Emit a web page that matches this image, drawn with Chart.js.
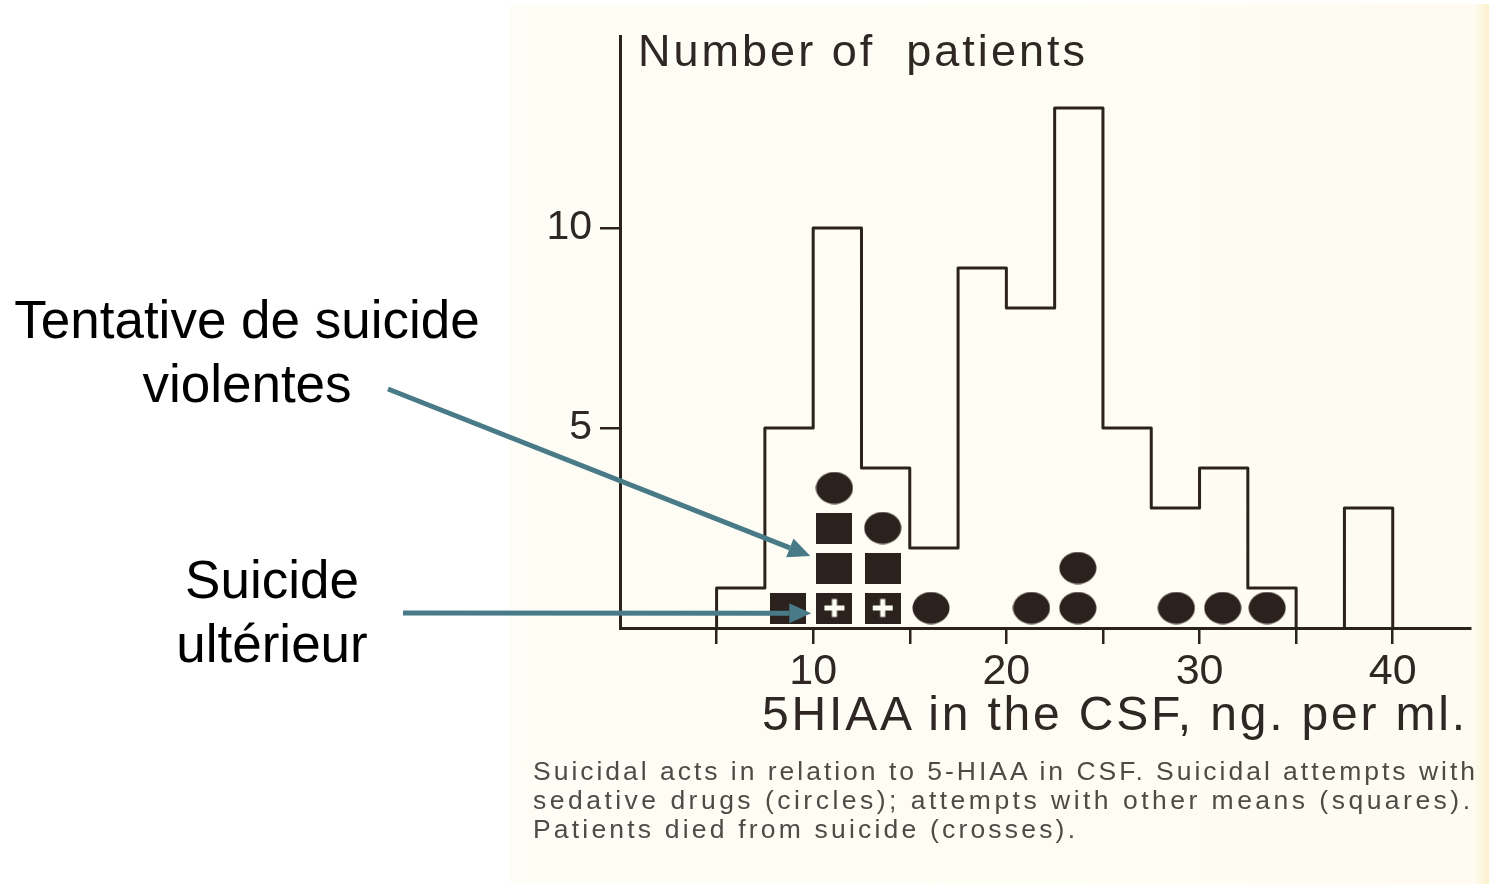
<!DOCTYPE html>
<html>
<head>
<meta charset="utf-8">
<title>5HIAA in the CSF</title>
<script src="https://cdn.jsdelivr.net/npm/chart.js@4.4.1/dist/chart.umd.min.js"></script>
<style>
  html, body { margin: 0; padding: 0; background: #fff; }
  body { width: 1489px; height: 884px; position: relative; overflow: hidden;
         font-family: "Liberation Sans", Arial, sans-serif; }
  #paper { position: absolute; left: 510px; top: 4px; right: 0; bottom: 0;
           background: linear-gradient(to right, #fefdf5 0, #fefcf2 calc(100% - 16px), #fbf1cf 100%); }
  #chart { position: absolute; left: 0; top: 0; }
  .scan { position: absolute; white-space: nowrap; color: #2e2724; line-height: 1; }
  .caption { color: #4f4a46; }
  .note { position: absolute; width: 500px; text-align: center; font-size: 53px;
          line-height: 64px; color: #000; white-space: nowrap; }
</style>
</head>
<body>
<div id="paper"></div>
<canvas id="chart" width="1489" height="884"></canvas>

<div class="scan" data-w="447" style="left:638px; top:28px; font-size:45px;">Number of&nbsp; patients</div>
<div class="scan" data-w="703" style="left:762px; top:690px; font-size:48px;">5HIAA in the CSF, ng. per ml.</div>
<div class="scan caption" data-w="942" style="left:533px; top:758px; font-size:26.5px;">Suicidal acts in relation to 5-HIAA in CSF. Suicidal attempts with</div>
<div class="scan caption" data-w="937" style="left:533px; top:787px; font-size:26.5px;">sedative drugs (circles); attempts with other means (squares).</div>
<div class="scan caption" data-w="542" style="left:533px; top:816px; font-size:26.5px;">Patients died from suicide (crosses).</div>

<div class="note" style="left:-3px; top:288px;">Tentative de suicide<br>violentes</div>
<div class="note" style="left:22px; top:548px;">Suicide<br>ultérieur</div>

<script>
// histogram: bins of 2.5 ng/ml from 5 to 40
const binStart = 5;
const binWidth = 2.5;
const binCounts = [1, 5, 10, 4, 2, 9, 8, 13, 5, 3, 4, 1, 0, 3];

// individual patients marked under the histogram
const circleX = [16.1, 21.3, 23.7, 23.7, 28.8, 31.2, 33.5, 13.6, 11.1];
const circleY = [0.5, 0.5, 0.5, 1.5, 0.5, 0.5, 0.5, 2.5, 3.5];
const squareX = [8.7, 11.1, 13.6, 11.1];
const squareY = [0.5, 1.5, 1.5, 2.5];
const crossX = [11.1, 13.6];
const crossY = [0.5, 0.5];

// axis ticks
const xTicks = [5, 10, 15, 20, 25, 30, 35, 40];
const xLabelled = [10, 20, 30, 40];
const yTicks = [5, 10];

// arrows: start in page pixels, tip in data units
const arrowStartPx = [[388, 389], [403, 613]];
const arrowTip = [[9.85, 1.8], [9.9, 0.37]];

const INK = '#2b221e';
const ARROW = '#487a88';

// outline of the histogram, built from the bins (empty bins leave a gap)
function histogramOutline() {
  const pts = [];
  let prev = 0;
  binCounts.forEach((c, i) => {
    const a = binStart + i * binWidth;
    if (c === 0) {
      if (prev !== 0) pts.push({ x: a, y: 0 });
      pts.push({ x: a, y: null });
      prev = 0;
      return;
    }
    if (prev === 0) pts.push({ x: a, y: 0 });
    pts.push({ x: a, y: c });
    pts.push({ x: a + binWidth, y: c });
    prev = c;
  });
  pts.push({ x: binStart + binCounts.length * binWidth, y: 0 });
  return pts;
}

function toPoints(xs, ys) {
  return xs.map((x, i) => ({ x: x, y: ys[i] }));
}

// marker images
function makeMarker(w, h, draw) {
  const c = document.createElement('canvas');
  c.width = w; c.height = h;
  draw(c.getContext('2d'), w, h);
  return c;
}
const circleImg = makeMarker(38, 33, (g, w, h) => {
  g.fillStyle = INK;
  g.beginPath();
  g.ellipse(w / 2, h / 2, w / 2 - 0.5, h / 2 - 0.5, 0, 0, Math.PI * 2);
  g.fill();
});
const squareImg = makeMarker(36, 31, (g, w, h) => {
  g.fillStyle = INK;
  g.fillRect(0, 0, w, h);
});
const crossImg = makeMarker(36, 31, (g, w, h) => {
  g.fillStyle = INK;
  g.fillRect(0, 0, w, h);
  g.fillStyle = '#fdfcf3';
  g.fillRect(w / 2 - 10, h / 2 - 2.5, 20, 5);
  g.fillRect(w / 2 - 2.5, h / 2 - 9, 5, 18);
});

const arrowPlugin = {
  id: 'arrows',
  afterDatasetsDraw(chart) {
    const g = chart.ctx;
    const xs = chart.scales.x, ys = chart.scales.y;
    g.save();
    g.strokeStyle = ARROW;
    g.fillStyle = ARROW;
    g.lineWidth = 5;
    arrowTip.forEach((t, i) => {
      const sx = arrowStartPx[i][0], sy = arrowStartPx[i][1];
      const tx = xs.getPixelForValue(t[0]), ty = ys.getPixelForValue(t[1]);
      const ang = Math.atan2(ty - sy, tx - sx);
      const headLen = 22, headW = 10;
      const bx = tx - headLen * Math.cos(ang), by = ty - headLen * Math.sin(ang);
      g.beginPath();
      g.moveTo(sx, sy);
      g.lineTo(bx, by);
      g.stroke();
      g.beginPath();
      g.moveTo(tx, ty);
      g.lineTo(bx + headW * Math.sin(ang), by - headW * Math.cos(ang));
      g.lineTo(bx - headW * Math.sin(ang), by + headW * Math.cos(ang));
      g.closePath();
      g.fill();
    });
    g.restore();
  }
};

new Chart(document.getElementById('chart'), {
  type: 'scatter',
  data: {
    datasets: [
      {
        label: 'patients',
        data: histogramOutline(),
        showLine: true,
        spanGaps: false,
        borderColor: INK,
        borderWidth: 3,
        borderJoinStyle: 'round',
        pointRadius: 0,
        tension: 0,
        clip: false
      },
      { label: 'sedative drugs', data: toPoints(circleX, circleY), pointStyle: circleImg, pointRadius: 18 },
      { label: 'other means', data: toPoints(squareX, squareY), pointStyle: squareImg, pointRadius: 18 },
      { label: 'died from suicide', data: toPoints(crossX, crossY), pointStyle: crossImg, pointRadius: 18 }
    ]
  },
  options: {
    responsive: false,
    animation: false,
    devicePixelRatio: 1,
    layout: { padding: { top: 36, right: 19, bottom: 0, left: 0 } },
    plugins: { legend: { display: false }, tooltip: { enabled: false } },
    events: [],
    scales: {
      x: {
        type: 'linear',
        min: 0,
        max: 44,
        afterFit(s) { s.height = 884 - 628; },
        afterBuildTicks(s) { s.ticks = xTicks.map(v => ({ value: v })); },
        border: { display: true, color: INK, width: 3 },
        grid: { drawOnChartArea: false, drawTicks: true, tickLength: 16, color: INK, lineWidth: 2.5 },
        ticks: {
          color: '#2e2724',
          font: { family: '"Liberation Sans", Arial, sans-serif', size: 43 },
          padding: 2,
          maxRotation: 0,
          autoSkip: false,
          callback: v => xLabelled.includes(v) ? String(v) : ''
        }
      },
      y: {
        type: 'linear',
        min: 0,
        max: 14.8,
        afterFit(s) { s.width = 620; },
        afterBuildTicks(s) { s.ticks = yTicks.map(v => ({ value: v })); },
        border: { display: true, color: INK, width: 3 },
        grid: { drawOnChartArea: false, drawTicks: true, tickLength: 20, color: INK, lineWidth: 2.5 },
        ticks: {
          color: '#2e2724',
          font: { family: '"Liberation Sans", Arial, sans-serif', size: 41 },
          padding: 8,
          autoSkip: false
        }
      }
    }
  },
  plugins: [arrowPlugin]
});

// spread the scanned labels to the widths they have in the figure
document.querySelectorAll('.scan').forEach(el => {
  const target = +el.dataset.w;
  el.style.letterSpacing = '0px';
  const natural = el.getBoundingClientRect().width;
  const n = el.textContent.length;
  el.style.letterSpacing = ((target - natural) / (n - 1)) + 'px';
});
</script>
</body>
</html>
